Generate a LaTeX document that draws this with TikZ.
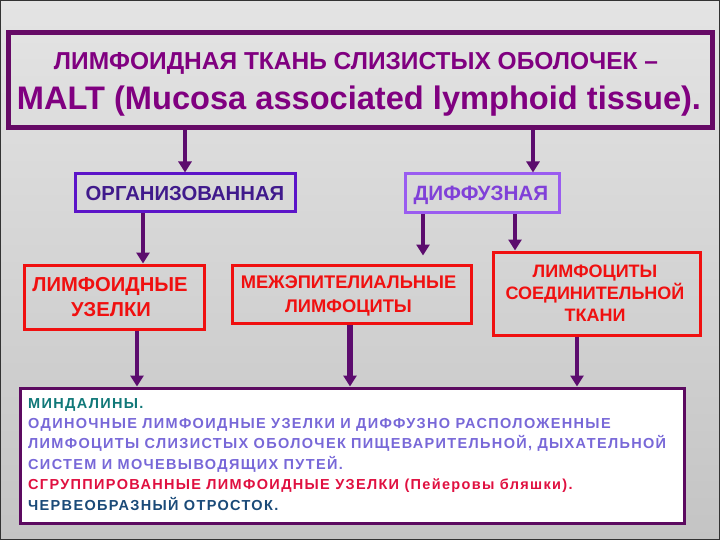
\documentclass[tikz,border=0pt]{standalone}
\usepackage{fontspec}
\setmainfont{Liberation Sans}
\newfontfamily\spacedfont[LetterSpace=9.2]{Liberation Sans}
\usetikzlibrary{arrows.meta}
\definecolor{bgtop}{RGB}{228,228,228}
\definecolor{bgbot}{RGB}{196,196,196}
\definecolor{titlec}{RGB}{102,10,102}
\definecolor{titletext}{RGB}{128,0,128}
\definecolor{arrowc}{RGB}{92,12,110}
\definecolor{orgc}{RGB}{92,20,200}
\definecolor{orgtext}{RGB}{64,26,140}
\definecolor{diffc}{RGB}{154,92,240}
\definecolor{difftext}{RGB}{128,64,216}
\definecolor{redc}{RGB}{240,16,16}
\definecolor{botc}{RGB}{92,10,96}
\definecolor{tealc}{RGB}{16,120,120}
\definecolor{lilac}{RGB}{120,104,216}
\definecolor{crimc}{RGB}{224,16,64}
\definecolor{navyc}{RGB}{26,74,120}
\tikzset{
  box/.style={draw, rectangle, inner sep=0pt},
  arr/.style={draw=arrowc, line width=4pt, -{Triangle[width=13pt,length=11pt]}},
  redtext/.style={anchor=base, text=redc, font=\bfseries\fontsize{18}{20}\selectfont, inner sep=0pt},
  btext/.style={anchor=base west, inner sep=0pt, font=\spacedfont\bfseries\fontsize{14.5}{17}\selectfont}
}
\begin{document}
\begin{tikzpicture}[x=1pt,y=-1pt]
\useasboundingbox (0,0) rectangle (720,540);
\shade[top color=bgtop, bottom color=bgbot] (0,0) rectangle (720,540);
\draw[line width=2pt, black!80] (0,0) rectangle (720,540);
% boxes
\node[box, draw=titlec, line width=5pt, minimum width=704pt, minimum height=95pt] (title) at (360,80.5) {};
\node[box, draw=orgc, line width=3pt, minimum width=220pt, minimum height=38pt] (org) at (185,193) {};
\node[box, draw=diffc, line width=3pt, minimum width=154pt, minimum height=39pt] (diff) at (482,193.5) {};
\node[box, draw=redc, line width=3pt, minimum width=180pt, minimum height=64pt] (lu) at (114,297) {};
\node[box, draw=redc, line width=3pt, minimum width=239pt, minimum height=58pt] (mez) at (351.5,294) {};
\node[box, draw=redc, line width=3pt, minimum width=207pt, minimum height=83pt] (ls) at (596.5,293.5) {};
\node[box, draw=botc, fill=white, line width=3pt, minimum width=664pt, minimum height=135pt] (bot) at (352,455.5) {};
% texts
\node[anchor=base, inner sep=0pt, text=titletext, font=\bfseries\fontsize{24.5}{27}\selectfont] (t1) at (356,70) {ЛИМФОИДНАЯ ТКАНЬ СЛИЗИСТЫХ ОБОЛОЧЕК –};
\node[anchor=base, inner sep=0pt, text=titletext, font=\bfseries\fontsize{32.6}{36}\selectfont] (t2) at (359,110) {MALT (Mucosa associated lymphoid tissue).};
\node[anchor=base, inner sep=0pt, text=orgtext, font=\bfseries\fontsize{20.3}{22}\selectfont] (orgt) at (185,201) {ОРГАНИЗОВАННАЯ};
\node[anchor=base, inner sep=0pt, text=difftext, font=\bfseries\fontsize{20.7}{22}\selectfont] (difft) at (481,201) {ДИФФУЗНАЯ};
\node[redtext, font=\bfseries\fontsize{20.2}{22}\selectfont] (lu1) at (110,291) {ЛИМФОИДНЫЕ};
\node[redtext, font=\bfseries\fontsize{20.2}{22}\selectfont] (lu2) at (111,316) {УЗЕЛКИ};
\node[redtext, font=\bfseries\fontsize{18.3}{20}\selectfont] (mz1) at (348.5,288) {МЕЖЭПИТЕЛИАЛЬНЫЕ};
\node[redtext, font=\bfseries\fontsize{18.3}{20}\selectfont] (mz2) at (348.5,312) {ЛИМФОЦИТЫ};
\node[redtext] (ls1) at (595,277) {ЛИМФОЦИТЫ};
\node[redtext] (ls2) at (595,299) {СОЕДИНИТЕЛЬНОЙ};
\node[redtext] (ls3) at (595,321.5) {ТКАНИ};
\node[btext, text=tealc] (b1) at (28,408) {МИНДАЛИНЫ.};
\node[btext, text=lilac] (b2) at (28,428.4) {ОДИНОЧНЫЕ ЛИМФОИДНЫЕ УЗЕЛКИ И ДИФФУЗНО РАСПОЛОЖЕННЫЕ};
\node[btext, text=lilac] (b3) at (28,448.8) {ЛИМФОЦИТЫ СЛИЗИСТЫХ ОБОЛОЧЕК ПИЩЕВАРИТЕЛЬНОЙ, ДЫХАТЕЛЬНОЙ};
\node[btext, text=lilac] (b4) at (28,469.2) {СИСТЕМ И МОЧЕВЫВОДЯЩИХ ПУТЕЙ.};
\node[btext, text=crimc] (b5) at (28,489.6) {СГРУППИРОВАННЫЕ ЛИМФОИДНЫЕ УЗЕЛКИ (Пейеровы бляшки).};
\node[btext, text=navyc] (b6) at (28,510) {ЧЕРВЕОБРАЗНЫЙ ОТРОСТОК.};
% connector columns
\coordinate (c2) at (533,0);
\coordinate (c3) at (143,0);
\coordinate (c4) at (423,0);
\coordinate (c5) at (515,0);
\coordinate (c6) at (137,0);
\coordinate (c7) at (350,0);
\coordinate (c8) at (577,0);
% connectors
\draw[arr] (title.south -| org) -- (org.north);
\draw[arr] (title.south -| c2) -- (diff.north -| c2);
\draw[arr] (org.south -| c3) -- (lu.north -| c3);
\draw[arr, shorten >=8pt] (diff.south -| c4) -- (mez.north -| c4);
\draw[arr] (diff.south -| c5) -- (ls.north -| c5);
\draw[arr] (lu.south -| c6) -- (bot.north -| c6);
\draw[arr, line width=6pt] (mez.south -| c7) -- (bot.north -| c7);
\draw[arr] (ls.south -| c8) -- (bot.north -| c8);
\end{tikzpicture}
\end{document}
